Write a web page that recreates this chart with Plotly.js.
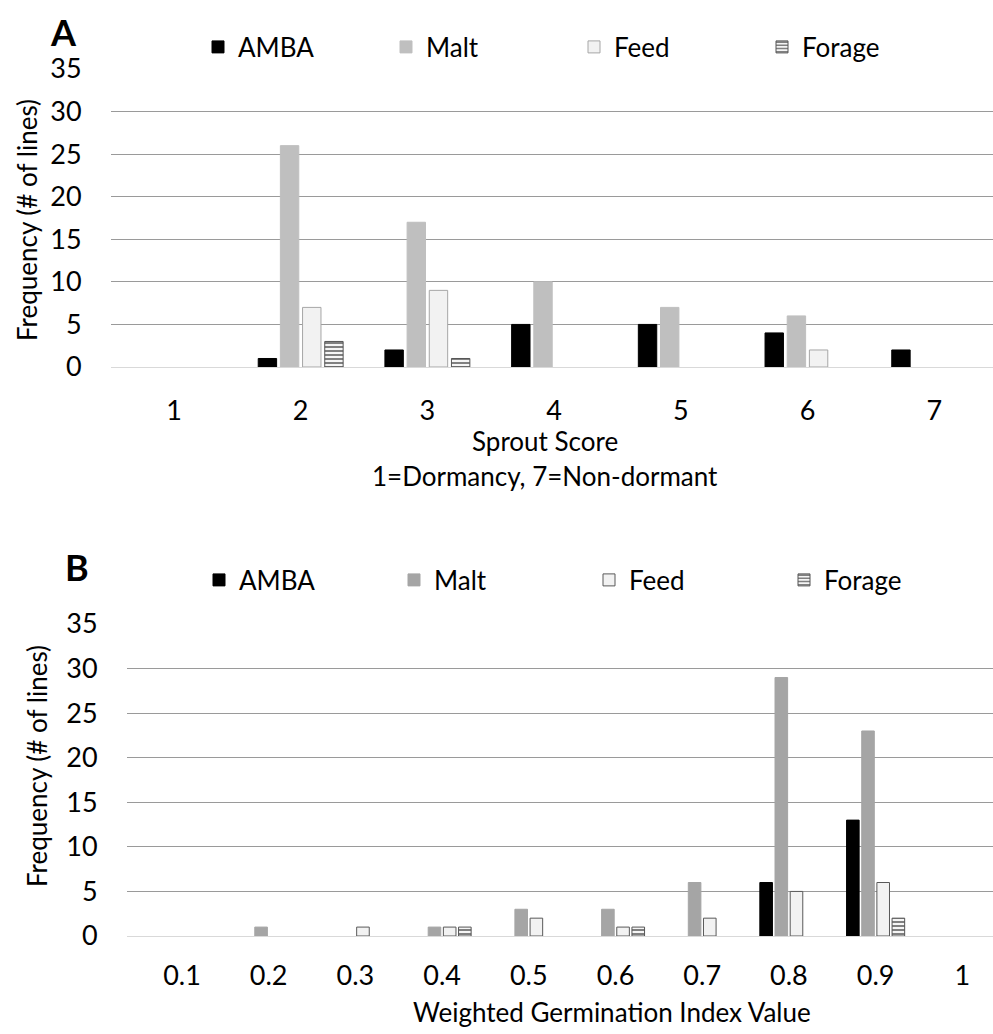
<!DOCTYPE html>
<html><head><meta charset="utf-8">
<script src="https://cdn.plot.ly/plotly-3.0.1.min.js"></script>
<style>html,body{margin:0;padding:0;background:#fff}#chart{width:993px;height:1034px}</style>
</head><body><div id="chart"></div>
<script>
// Panel A: Sprout score
const scoreCats = ['1','2','3','4','5','6','7'];
const scoreAMBA   = [0, 1, 2, 5, 5, 4, 2];
const scoreMalt   = [0, 26, 17, 10, 7, 6, 0];
const scoreFeed   = [0, 7, 9, 0, 0, 2, 0];
const scoreForage = [0, 3, 1, 0, 0, 0, 0];

// Panel B: Weighted germination index
const wgiCats = ['0.1','0.2','0.3','0.4','0.5','0.6','0.7','0.8','0.9','1'];
const wgiAMBA   = [0, 0, 0, 0, 0, 0, 0, 6, 13, 0];
const wgiMalt   = [0, 1, 0, 1, 3, 3, 6, 29, 23, 0];
const wgiFeed   = [0, 0, 1, 1, 2, 1, 2, 5, 6, 0];
const wgiForage = [0, 0, 0, 1, 0, 1, 0, 0, 2, 0];

const seriesNames = ['AMBA','Malt','Feed','Forage'];
const yTicks = [0,5,10,15,20,25,30,35];

const W = 993, H = 1034;
const px = v => v / W;
const py = v => 1 - v / H;
const FONT = 'Lato, "Open Sans", sans-serif';

function styles(maltColor, feedLine){
  return [
    {color:'#000000', line:{color:'#000000', width:1}},
    {color:maltColor, line:{color:maltColor, width:1}},
    {color:'#f2f2f2', line:{color:feedLine, width:1}},
    {color:'#f2f2f2', line:{color:'#555555', width:1},
     pattern:{shape:'-', fgcolor:'#4d4d4d', bgcolor:'#f5f5f5', size:4, solidity:0.35}}
  ];
}
const stA = styles('#bfbfbf', '#a6a6a6');
const stB = styles('#a5a5a5', '#595959');

// zero counts are left empty (no bar drawn), as in the original
const shown = vals => vals.map(v => v > 0 ? v : null);

const dataA = [scoreAMBA, scoreMalt, scoreFeed, scoreForage];
const dataB = [wgiAMBA, wgiMalt, wgiFeed, wgiForage];

const traces = [];
dataA.forEach((vals,i)=>traces.push({
  type:'bar', x:scoreCats, y:shown(vals), name:seriesNames[i], marker:stA[i],
  xaxis:'x', yaxis:'y', legend:'legend'
}));
dataB.forEach((vals,i)=>traces.push({
  type:'bar', x:wgiCats, y:shown(vals), name:seriesNames[i], marker:stB[i],
  xaxis:'x2', yaxis:'y2', legend:'legend2'
}));

const tickFont = {family:FONT, size:27, color:'#000'};
const yCommon = {
  range:[0,35], tickvals:yTicks, showgrid:true, gridcolor:'#9a9a9a', gridwidth:1,
  zeroline:true, zerolinecolor:'#d9d9d9', zerolinewidth:1, showline:false,
  ticks:'outside', ticklen:23, tickcolor:'rgba(0,0,0,0)', tickfont:tickFont, fixedrange:true
};
const xCommon = {
  type:'category', showgrid:false, zeroline:false, showline:false,
  ticks:'outside', tickcolor:'rgba(0,0,0,0)', tickfont:tickFont, fixedrange:true
};

function ann(text, x, y, size, angle){
  return {text:text, xref:'paper', yref:'paper', x:px(x), y:py(y), xanchor:'center', yanchor:'middle',
          textangle:angle||0, showarrow:false, font:{family:FONT, size:size, color:'#000'}};
}

const layout = {
  width:W, height:H, margin:{l:0,r:0,t:0,b:0}, paper_bgcolor:'#fff', plot_bgcolor:'#fff',
  barmode:'group', bargap:0.3, bargroupgap:0.17,
  font:{family:FONT, color:'#000'},
  xaxis:Object.assign({}, xCommon, {domain:[px(111),1], range:[-0.497, 6.464], anchor:'y', ticklen:20}),
  yaxis:Object.assign({}, yCommon, {domain:[py(367), py(69)], anchor:'x'}),
  xaxis2:Object.assign({}, xCommon, {domain:[px(127),1], range:[-0.634, 9.354], anchor:'y2', ticklen:16}),
  yaxis2:Object.assign({}, yCommon, {domain:[py(936), py(624)], anchor:'x2'}),
  legend:{orientation:'h', x:px(198), xanchor:'left', y:py(47), yanchor:'middle',
          font:{family:FONT, size:26, color:'#000'}, entrywidth:143, entrywidthmode:'pixels',
          bgcolor:'rgba(0,0,0,0)', tracegroupgap:0},
  legend2:{orientation:'h', x:px(199), xanchor:'left', y:py(580), yanchor:'middle',
          font:{family:FONT, size:26, color:'#000'}, entrywidth:150, entrywidthmode:'pixels',
          bgcolor:'rgba(0,0,0,0)', tracegroupgap:0},
  annotations:[
    ann('<b>A</b>', 63, 32, 36),
    ann('<b>B</b>', 77, 567, 36),
    ann('Frequency (# of lines)', 27, 220, 26, -90),
    ann('Frequency (# of lines)', 37, 766, 26, -90),
    ann('Sprout Score', 545, 441, 26),
    ann('1=Dormancy, 7=Non-dormant', 545, 476, 26),
    ann('Weighted Germination Index Value', 612, 1012, 26)
  ]
};

Plotly.newPlot('chart', traces, layout, {displayModeBar:false, staticPlot:true});
</script></body></html>
